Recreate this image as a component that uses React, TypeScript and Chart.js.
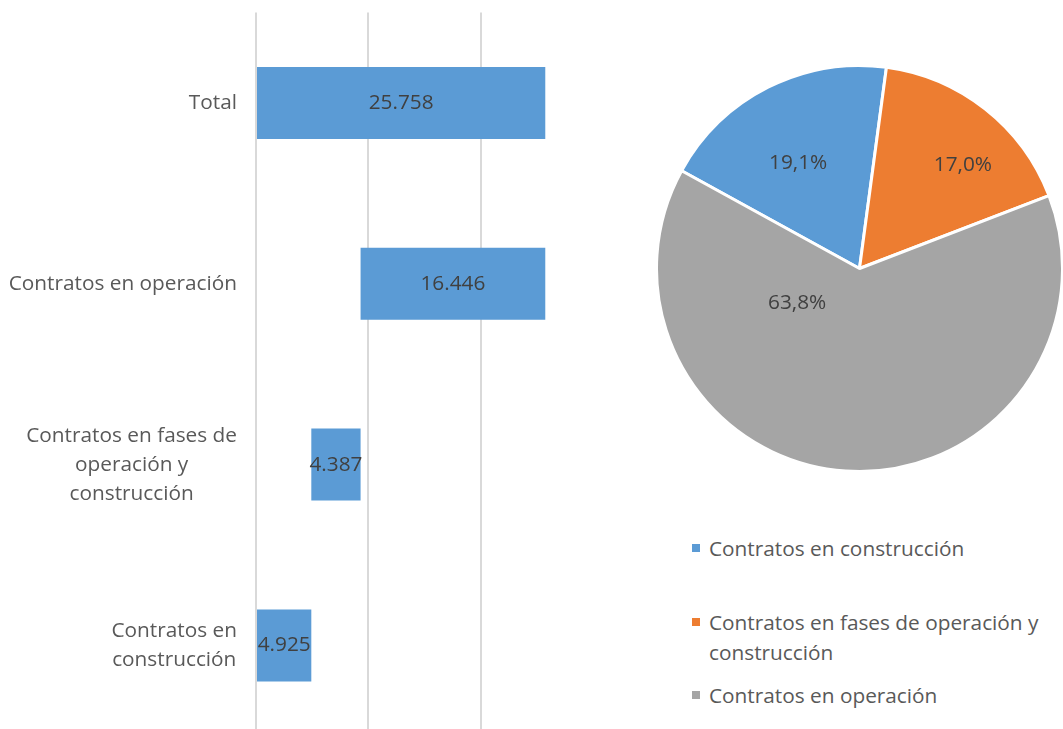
import React, { useEffect, useRef } from 'react';
import { Chart, registerables } from 'chart.js';

Chart.register(...registerables);

// ---- data ----
const barCategories: (string | string[])[] = [
  'Total',
  'Contratos en operación',
  ['Contratos en fases de', 'operación y', 'construcción'],
  ['Contratos en', 'construcción'],
];
const barValues = [25758, 16446, 4387, 4925];
const barIsTotal = [true, false, false, false];
const xTickValues = [0, 10000, 20000];
const xMax = 29740;

const pieCategories = [
  'Contratos en construcción',
  'Contratos en fases de operación y construcción',
  'Contratos en operación',
];
const pieValues = [4925, 4387, 16446];
const pieColors = ['#5b9bd5', '#ed7d31', '#a5a5a5'];

// label placement within each slice: [fraction of arc angle, fraction of radius]
const pieLabelPlacement = [
  [0.45, 0.6],
  [0.61, 0.72],
  [0.75, 0.35],
];

const FONT = "'Open Sans', sans-serif";
const FONT_SIZE = 20.8;

const fmtThousands = (v: number) => String(v).replace(/\B(?=(\d{3})+(?!\d))/g, '.');
const pieTotal = pieValues.reduce((a, b) => a + b, 0);
const fmtPct = (v: number) => ((v / pieTotal) * 100).toFixed(1).replace('.', ',') + '%';

// waterfall ranges (cumulated from the bottom category upwards)
const barRanges: [number, number][] = (() => {
  const out: [number, number][] = new Array(barValues.length);
  let cum = 0;
  for (let i = barValues.length - 1; i >= 0; i--) {
    if (barIsTotal[i]) {
      out[i] = [0, barValues[i]];
    } else {
      out[i] = [cum, cum + barValues[i]];
      cum += barValues[i];
    }
  }
  return out;
})();

const barLabelPlugin = {
  id: 'barLabels',
  afterDatasetsDraw(chart: any) {
    const ctx = chart.ctx;
    const meta = chart.getDatasetMeta(0);
    ctx.save();
    ctx.font = `${FONT_SIZE}px ${FONT}`;
    ctx.fillStyle = '#404040';
    ctx.textAlign = 'center';
    ctx.textBaseline = 'middle';
    meta.data.forEach((el: any, i: number) => {
      const { x, base, y } = el.getProps(['x', 'base', 'y'], true);
      ctx.fillText(fmtThousands(barValues[i]), (x + base) / 2, y);
    });
    ctx.restore();
  },
};

const catLabelPlugin = {
  id: 'catLabels',
  afterDraw(chart: any) {
    const ctx = chart.ctx;
    const yScale = chart.scales.y;
    const right = chart.chartArea.left - 19;
    const lh = 29;
    ctx.save();
    ctx.font = `${FONT_SIZE}px ${FONT}`;
    ctx.fillStyle = '#595959';
    ctx.textAlign = 'center';
    ctx.textBaseline = 'middle';
    barCategories.forEach((lab, i) => {
      const lines = Array.isArray(lab) ? lab : [lab];
      const widest = Math.max(...lines.map((l) => ctx.measureText(l).width));
      const cx = right - widest / 2;
      const cy = yScale.getPixelForValue(i);
      lines.forEach((l, k) => {
        ctx.fillText(l, cx, cy + (k - (lines.length - 1) / 2) * lh);
      });
    });
    ctx.restore();
  },
};

const pieLabelPlugin = {
  id: 'pieLabels',
  afterDatasetsDraw(chart: any) {
    const ctx = chart.ctx;
    const meta = chart.getDatasetMeta(0);
    ctx.save();
    ctx.font = `${FONT_SIZE}px ${FONT}`;
    ctx.fillStyle = '#404040';
    ctx.textAlign = 'center';
    ctx.textBaseline = 'middle';
    meta.data.forEach((arc: any, i: number) => {
      const { x, y, startAngle, endAngle, outerRadius } = arc.getProps(
        ['x', 'y', 'startAngle', 'endAngle', 'outerRadius'],
        true
      );
      const [fa, fr] = pieLabelPlacement[i];
      const a = startAngle + (endAngle - startAngle) * fa;
      const r = outerRadius * fr;
      ctx.fillText(fmtPct(pieValues[i]), x + Math.cos(a) * r, y + Math.sin(a) * r);
    });
    ctx.restore();
  },
};

export default function App() {
  const barRef = useRef<HTMLCanvasElement>(null);
  const pieRef = useRef<HTMLCanvasElement>(null);

  useEffect(() => {
    const bar = new Chart(barRef.current!, {
      type: 'bar',
      data: {
        labels: barCategories as any,
        datasets: [
          {
            data: barRanges as any,
            backgroundColor: '#5b9bd5',
            borderWidth: 0,
            barPercentage: 0.398,
            categoryPercentage: 1,
          },
        ],
      },
      options: {
        indexAxis: 'y',
        animation: false,
        responsive: true,
        maintainAspectRatio: false,
        layout: { padding: { left: 256, top: 12.6, bottom: 4.2, right: 0 } },
        plugins: { legend: { display: false }, tooltip: { enabled: false } },
        scales: {
          y: { display: false },
          x: {
            min: 0,
            max: xMax,
            grid: { color: '#d9d9d9', lineWidth: 2, drawTicks: false },
            border: { display: false },
            ticks: { display: false },
            afterBuildTicks: (scale: any) => {
              scale.ticks = xTickValues.map((v) => ({ value: v }));
            },
          },
        },
      },
      plugins: [barLabelPlugin, catLabelPlugin],
    });

    const pie = new Chart(pieRef.current!, {
      type: 'pie',
      data: {
        labels: pieCategories,
        datasets: [
          {
            data: pieValues,
            backgroundColor: pieColors,
            borderColor: '#ffffff',
            borderWidth: 3,
          },
        ],
      },
      options: {
        animation: false,
        responsive: true,
        maintainAspectRatio: false,
        rotation: -61.2,
        layout: { padding: 0 },
        plugins: { legend: { display: false }, tooltip: { enabled: false } },
      },
      plugins: [pieLabelPlugin],
    });

    return () => {
      bar.destroy();
      pie.destroy();
    };
  }, []);

  const legendTops = [533, 607, 680];

  return (
    <div
      style={{
        position: 'fixed',
        left: 0,
        top: 0,
        width: 1063,
        height: 729,
        overflow: 'hidden',
        background: '#ffffff',
        fontFamily: FONT,
      }}
    >
      <div style={{ position: 'absolute', left: 0, top: 0, width: 590, height: 740 }}>
        <canvas ref={barRef} />
      </div>
      <div style={{ position: 'absolute', left: 655, top: 64, width: 409, height: 409 }}>
        <canvas ref={pieRef} />
      </div>
      {pieCategories.map((name, i) => (
        <div
          key={name}
          style={{
            position: 'absolute',
            left: 692,
            top: legendTops[i],
            width: 360,
            display: 'flex',
            alignItems: 'flex-start',
          }}
        >
          <span
            style={{
              display: 'inline-block',
              width: 8,
              height: 8,
              marginTop: 11,
              marginRight: 9,
              background: pieColors[i],
              flex: '0 0 auto',
            }}
          />
          <span
            style={{
              fontSize: FONT_SIZE,
              lineHeight: '30px',
              color: '#595959',
              width: 345,
            }}
          >
            {name}
          </span>
        </div>
      ))}
    </div>
  );
}
